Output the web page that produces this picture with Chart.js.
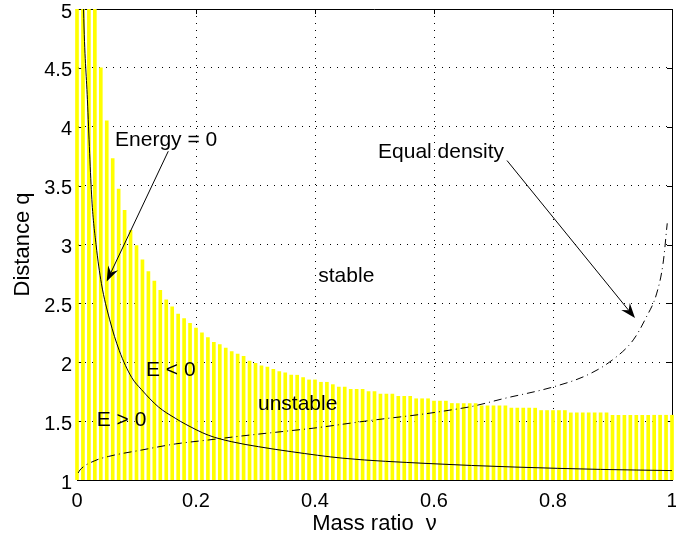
<!DOCTYPE html>
<html>
<head>
<meta charset="utf-8">
<script src="https://cdn.jsdelivr.net/npm/chart.js@4/dist/chart.umd.min.js"></script>
<style>
html,body{margin:0;padding:0;background:#fff;}
#wrap{width:676px;height:539px;}
</style>
</head>
<body>
<div id="wrap"><canvas id="c" width="676" height="539"></canvas></div>
<script>
// ---- data ----
const massRatio = [0.00,0.01,0.02,0.03,0.04,0.05,0.06,0.07,0.08,0.09,
  0.10,0.11,0.12,0.13,0.14,0.15,0.16,0.17,0.18,0.19,
  0.20,0.21,0.22,0.23,0.24,0.25,0.26,0.27,0.28,0.29,
  0.30,0.31,0.32,0.33,0.34,0.35,0.36,0.37,0.38,0.39,
  0.40,0.41,0.42,0.43,0.44,0.45,0.46,0.47,0.48,0.49,
  0.50,0.51,0.52,0.53,0.54,0.55,0.56,0.57,0.58,0.59,
  0.60,0.61,0.62,0.63,0.64,0.65,0.66,0.67,0.68,0.69,
  0.70,0.71,0.72,0.73,0.74,0.75,0.76,0.77,0.78,0.79,
  0.80,0.81,0.82,0.83,0.84,0.85,0.86,0.87,0.88,0.89,
  0.90,0.91,0.92,0.93,0.94,0.95,0.96,0.97,0.98,0.99,1.00];
const stabilityLimit = [9.0,7.0,5.9,5.2,4.5,4.05,3.73,3.47,3.29,3.12,
  2.99,2.87,2.77,2.69,2.61,2.53,2.47,2.41,2.37,2.33,
  2.29,2.25,2.21,2.17,2.15,2.12,2.09,2.07,2.05,2.01,
  1.99,1.97,1.96,1.94,1.92,1.91,1.89,1.89,1.87,1.85,
  1.85,1.83,1.83,1.81,1.79,1.79,1.77,1.77,1.77,1.75,
  1.75,1.73,1.73,1.73,1.71,1.71,1.71,1.69,1.69,1.69,
  1.67,1.67,1.67,1.65,1.65,1.65,1.65,1.65,1.63,1.63,
  1.63,1.63,1.63,1.61,1.61,1.61,1.61,1.61,1.59,1.59,
  1.59,1.59,1.59,1.57,1.57,1.57,1.57,1.57,1.57,1.57,
  1.55,1.55,1.55,1.55,1.55,1.55,1.55,1.55,1.55,1.55,1.55];

const energyZeroX = [0.010,0.011,0.0175,0.025,0.032,0.041,0.055,0.071,0.092,0.108,0.137,0.165,0.182,0.221,0.26,0.305,0.361,0.447,0.59,0.736,0.88,1.0];
const energyZeroY = [5.3,5.0,4.23,3.38,3.0,2.67,2.36,2.1,1.87,1.77,1.62,1.525,1.475,1.38,1.325,1.283,1.24,1.185,1.14,1.11,1.09,1.08];

const equalDensityX = [0.002,0.005,0.03,0.053,0.109,0.165,0.221,0.277,0.361,0.397,0.492,0.582,0.635,0.664,0.716,0.80,0.857,0.90,0.935,0.957,0.974,0.985,0.992];
const equalDensityY = [1.06,1.085,1.164,1.2,1.255,1.306,1.34,1.374,1.42,1.44,1.505,1.56,1.60,1.625,1.69,1.79,1.89,2.02,2.19,2.385,2.58,2.84,3.18];

const xTickValues = [0,0.2,0.4,0.6,0.8,1];
const xTickLabels = ['0','0.2','0.4','0.6','0.8','1'];
const yTickValues = [1,1.5,2,2.5,3,3.5,4,4.5,5];
const yTickLabels = ['1','1.5','2','2.5','3','3.5','4','4.5','5'];

const noteTexts = ['Energy = 0','Equal density','stable','unstable','E < 0','E > 0'];
const noteX = [0.0639,0.5059,0.4055,0.3042,0.116,0.0331];
const noteY = [3.834,3.734,2.681,1.595,1.884,1.459];

const arrowFromX = [0.1534,0.7227];
const arrowFromY = [3.792,3.713];
const arrowToX = [0.0499,0.9378];
const arrowToY = [2.686,2.375];

// ---- chart ----
const FONT = "'Liberation Sans', Arial, Helvetica, sans-serif";

function drawArrow(ctx, x1, y1, x2, y2) {
  const ang = Math.atan2(y2 - y1, x2 - x1);
  const c = Math.cos(ang), s = Math.sin(ang);
  const L = 15, W = 5.5, N = 10;
  ctx.beginPath();
  ctx.moveTo(x1, y1);
  ctx.lineTo(x2 - c * N, y2 - s * N);
  ctx.stroke();
  const bx = x2 - c * L, by = y2 - s * L;
  ctx.beginPath();
  ctx.moveTo(x2, y2);
  ctx.lineTo(bx - s * W, by + c * W);
  ctx.lineTo(x2 - c * N, y2 - s * N);
  ctx.lineTo(bx + s * W, by - c * W);
  ctx.closePath();
  ctx.fill();
}

const framePlugin = {
  id: 'frame',
  beforeDatasetsDraw(chart) {
    const {ctx, chartArea: a, scales: {x, y}} = chart;
    ctx.save();
    ctx.strokeStyle = '#000';
    ctx.lineWidth = 1;
    ctx.beginPath();
    ctx.moveTo(a.left, a.top + 0.5);
    ctx.lineTo(a.right + 0.5, a.top + 0.5);
    ctx.lineTo(a.right + 0.5, a.bottom);
    ctx.stroke();
    const T = 5;
    ctx.beginPath();
    xTickValues.forEach(v => {
      const px = Math.round(x.getPixelForValue(v)) + 0.5;
      ctx.moveTo(px, a.bottom); ctx.lineTo(px, a.bottom - T);
      ctx.moveTo(px, a.top); ctx.lineTo(px, a.top + T);
    });
    yTickValues.forEach(v => {
      const py = Math.round(y.getPixelForValue(v)) + 0.5;
      ctx.moveTo(a.left, py); ctx.lineTo(a.left + T, py);
      ctx.moveTo(a.right, py); ctx.lineTo(a.right - T, py);
    });
    ctx.stroke();
    ctx.restore();
  },
  afterDatasetsDraw(chart) {
    const {ctx, scales: {x, y}} = chart;
    ctx.save();
    ctx.fillStyle = '#000';
    ctx.strokeStyle = '#000';
    ctx.lineWidth = 1;
    ctx.font = '21px ' + FONT;
    ctx.textAlign = 'left';
    ctx.textBaseline = 'alphabetic';
    noteTexts.forEach((t, i) => {
      ctx.fillText(t, x.getPixelForValue(noteX[i]), y.getPixelForValue(noteY[i]));
    });
    arrowFromX.forEach((_, i) => {
      drawArrow(ctx,
        x.getPixelForValue(arrowFromX[i]), y.getPixelForValue(arrowFromY[i]),
        x.getPixelForValue(arrowToX[i]), y.getPixelForValue(arrowToY[i]));
    });
    ctx.restore();
  }
};

new Chart(document.getElementById('c'), {
  type: 'bar',
  data: {
    datasets: [
      {
        type: 'line',
        label: 'Energy = 0',
        data: energyZeroX.map((v, i) => ({x: v, y: energyZeroY[i]})),
        borderColor: '#000',
        borderWidth: 1,
        pointRadius: 0,
        cubicInterpolationMode: 'monotone',
        fill: false,
        order: 1
      },
      {
        type: 'line',
        label: 'Equal density',
        data: equalDensityX.map((v, i) => ({x: v, y: equalDensityY[i]})),
        borderColor: '#000',
        borderWidth: 1,
        borderDash: [8, 4, 1, 4],
        pointRadius: 0,
        cubicInterpolationMode: 'monotone',
        fill: false,
        order: 1
      },
      {
        type: 'bar',
        label: 'stability limit',
        data: massRatio.map((v, i) => ({x: v, y: stabilityLimit[i]})),
        backgroundColor: '#ffff00',
        borderWidth: 0,
        barThickness: 3,
        grouped: false,
        clip: {left: 2, right: 2, top: 0, bottom: 0},
        order: 2
      }
    ]
  },
  options: {
    responsive: false,
    devicePixelRatio: 1,
    animation: false,
    layout: {padding: {top: 9, right: 4, left: 0, bottom: 0}},
    plugins: {legend: {display: false}, tooltip: {enabled: false}},
    scales: {
      x: {
        type: 'linear',
        min: 0, max: 1,
        offset: false,
        grid: {offset: false, color: '#000', lineWidth: 1, drawTicks: false},
        border: {display: true, color: '#000', width: 1, dash: [1, 6]},
        afterBuildTicks: s => { s.ticks = xTickValues.map(v => ({value: v})); },
        afterFit: s => { s.height = 59; s.paddingLeft = 0; s.paddingRight = 0; },
        ticks: {
          autoSkip: false, maxRotation: 0, padding: 9, color: '#000',
          font: {family: FONT, size: 20},
          callback: (v) => xTickLabels[xTickValues.indexOf(v)] ?? ''
        },
        title: {display: true, text: 'Mass ratio  ν', color: '#000',
          font: {family: FONT, size: 22}, padding: {top: 0, bottom: 2}}
      },
      y: {
        type: 'linear',
        min: 1, max: 5,
        beginAtZero: false,
        grid: {color: '#000', lineWidth: 1, drawTicks: false},
        border: {display: true, color: '#000', width: 1, dash: [1, 6]},
        afterBuildTicks: s => { s.ticks = yTickValues.map(v => ({value: v})); },
        afterFit: s => { s.width = 77; s.paddingTop = 0; s.paddingBottom = 0; },
        ticks: {
          autoSkip: false, padding: 5, color: '#000', labelOffset: 3,
          font: {family: FONT, size: 20},
          callback: (v) => yTickLabels[yTickValues.indexOf(v)] ?? ''
        },
        title: {display: true, text: 'Distance q', color: '#000',
          font: {family: FONT, size: 22}, padding: {top: 10, bottom: 0}}
      }
    }
  },
  plugins: [framePlugin]
});
</script>
</body>
</html>
